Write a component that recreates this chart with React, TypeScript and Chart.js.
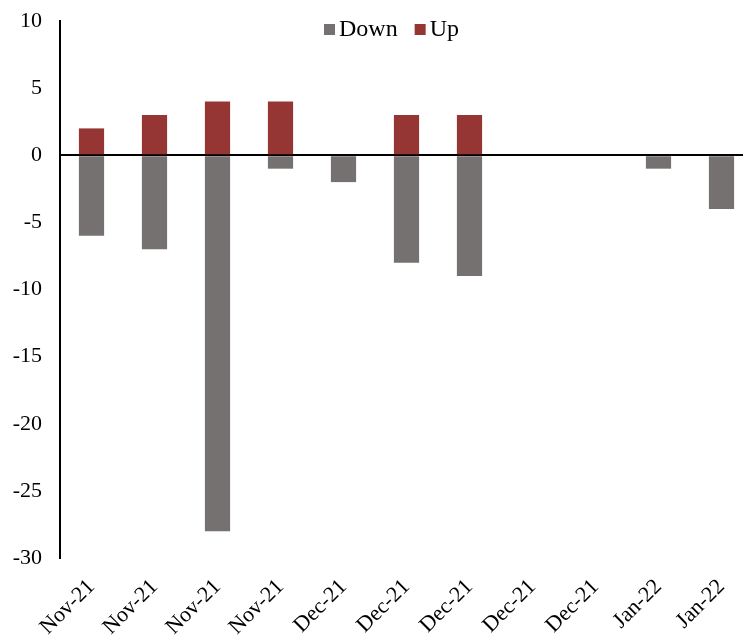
import React, { useEffect, useRef } from "react";
import { Chart, registerables } from "chart.js";

Chart.register(...registerables);

const categories = [
  "Nov-21", "Nov-21", "Nov-21", "Nov-21", "Dec-21", "Dec-21",
  "Dec-21", "Dec-21", "Dec-21", "Jan-22", "Jan-22",
];
const downValues = [-6, -7, -28, -1, -2, -8, -9, 0, 0, -1, -4];
const upValues = [2, 3, 4, 4, 0, 3, 3, 0, 0, 0, 0];
const seriesNames = ["Down", "Up"];
const seriesColors = ["#767171", "#963634"];
const yMin = -30;
const yMax = 10;
const yStep = 5;

const FONT = "'Liberation Serif', 'Times New Roman', serif";

// Legend drawn over the top of the plot, centred a little left of the plot middle
const overlayLegend = {
  id: "overlayLegend",
  afterDraw(chart: any) {
    const ctx = chart.ctx;
    ctx.save();
    ctx.font = `24px ${FONT}`;
    ctx.textBaseline = "alphabetic";
    ctx.textAlign = "left";
    const box = 11;
    let x = 324;
    chart.data.datasets.forEach((ds: any) => {
      ctx.fillStyle = ds.backgroundColor;
      ctx.fillRect(x, 24, box, box);
      x += box + 4;
      ctx.fillStyle = "#000";
      ctx.fillText(ds.label, x, 36);
      x += ctx.measureText(ds.label).width + 17;
    });
    ctx.restore();
  },
};

export default function App() {
  const ref = useRef<HTMLCanvasElement | null>(null);

  useEffect(() => {
    if (!ref.current) return;
    const chart = new Chart(ref.current, {
      type: "bar",
      data: {
        labels: categories,
        datasets: [
          {
            label: seriesNames[0],
            data: downValues,
            backgroundColor: seriesColors[0],
            borderWidth: 0,
          },
          {
            label: seriesNames[1],
            data: upValues,
            backgroundColor: seriesColors[1],
            borderWidth: 0,
          },
        ],
      },
      options: {
        responsive: false,
        animation: false,
        devicePixelRatio: 1,
        layout: { padding: { left: 0, right: 7, top: 21, bottom: 0 } },
        datasets: {
          bar: { barPercentage: 0.4, categoryPercentage: 1 },
        },
        plugins: {
          legend: { display: false },
          tooltip: { enabled: false },
        },
        scales: {
          x: {
            stacked: true,
            grid: { display: false },
            border: { display: false },
            ticks: {
              autoSkip: false,
              maxRotation: 45,
              minRotation: 45,
              color: "#000",
              padding: 8,
              font: { family: FONT, size: 22 },
            },
            afterFit(scale: any) {
              scale.height = 83;
              scale.paddingLeft = 0;
              scale.paddingRight = 0;
            },
          },
          y: {
            stacked: true,
            min: yMin,
            max: yMax,
            z: 1,
            ticks: {
              stepSize: yStep,
              color: "#000",
              padding: 18,
              font: { family: FONT, size: 22 },
            },
            grid: {
              drawTicks: false,
              lineWidth: 2,
              color: (c: any) => (c.tick && c.tick.value === 0 ? "#000" : "rgba(0,0,0,0)"),
            },
            border: { display: true, color: "#000", width: 2 },
            afterFit(scale: any) {
              scale.width = 60;
              scale.paddingTop = 0;
              scale.paddingBottom = 0;
            },
          },
        },
      },
      plugins: [overlayLegend],
    });
    return () => chart.destroy();
  }, []);

  return (
    <div
      style={{
        position: "fixed",
        left: 0,
        top: 0,
        width: 743,
        height: 641,
        overflow: "hidden",
        background: "#fff",
      }}
    >
      <canvas ref={ref} width={760} height={641} style={{ display: "block" }} />
    </div>
  );
}
